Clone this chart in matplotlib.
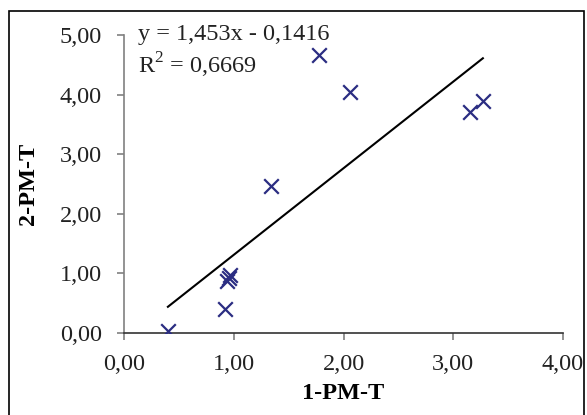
import matplotlib
matplotlib.use("Agg")
import matplotlib.pyplot as plt
import numpy as np
from matplotlib.patches import Rectangle

x_vals = [0.40, 0.92, 0.94, 0.96, 0.97, 1.34, 1.78, 2.06, 3.15, 3.27]
y_vals = [0.03, 0.40, 0.88, 0.92, 0.98, 2.47, 4.66, 4.05, 3.71, 3.90]
slope, intercept = 1.453, -0.1416
eq_text = "y = 1,453x - 0,1416"
r2_text = "R$^2$ = 0,6669"
x_ticks = [0, 1, 2, 3, 4]
y_ticks = [0, 1, 2, 3, 4, 5]

plt.rcParams['font.family'] = ['Liberation Serif', 'DejaVu Serif']
plt.rcParams['mathtext.fontset'] = 'custom'
plt.rcParams['mathtext.rm'] = 'Liberation Serif'

FS = 17.5
fig = plt.figure(figsize=(5.87, 4.15), dpi=100)
fig.patches.append(Rectangle((9/587, -0.1), (584-9)/587, 1.1 - 11/415, transform=fig.transFigure,
                             fill=False, edgecolor='black', linewidth=1.2))
ax = fig.add_axes([124/587, 1-333/415, (563-124)/587, (333-35)/415])

ax.scatter(x_vals, y_vals, marker='x', s=110, color='#2b2d82', linewidths=1.6, zorder=3)
xl = np.array([min(x_vals), max(x_vals)])
ax.plot(xl, slope*xl + intercept, color='black', lw=1.5, zorder=2)

ax.set_xlim(0, 4)
ax.set_ylim(0, 5)
ax.set_xticks(x_ticks)
ax.set_yticks(y_ticks)
fmt = lambda v: f"{v:.2f}".replace('.', ',')
ax.set_xticklabels([fmt(v) for v in x_ticks])
ax.set_yticklabels([fmt(v) for v in y_ticks])
for s in ['top', 'right']:
    ax.spines[s].set_visible(False)
ax.spines['left'].set_color('#808080')
ax.spines['bottom'].set_color('#333333')
ax.spines['left'].set_linewidth(1.2)
ax.spines['bottom'].set_linewidth(1.2)
ax.tick_params(axis='both', direction='out', length=5, width=1.2, color='#808080',
               labelsize=FS, labelcolor='#222222')
ax.tick_params(axis='y', pad=11)
ax.tick_params(axis='x', pad=10)
ax.set_xlabel('1-PM-T', fontsize=FS, fontweight='bold')
ax.set_ylabel('2-PM-T', fontsize=FS, fontweight='bold')
ax.xaxis.set_label_coords(0.499, -0.168)
ax.yaxis.set_label_coords(-0.193, 0.5)
ax.set_clip_on(False)

fig.text(138/587, 1-40/415, eq_text, fontsize=FS, color='#222222', va='baseline')
fig.text(138/587, 1-73/415, r2_text, fontsize=FS, color='#222222', va='baseline')

fig.savefig('out.png', dpi=100)
